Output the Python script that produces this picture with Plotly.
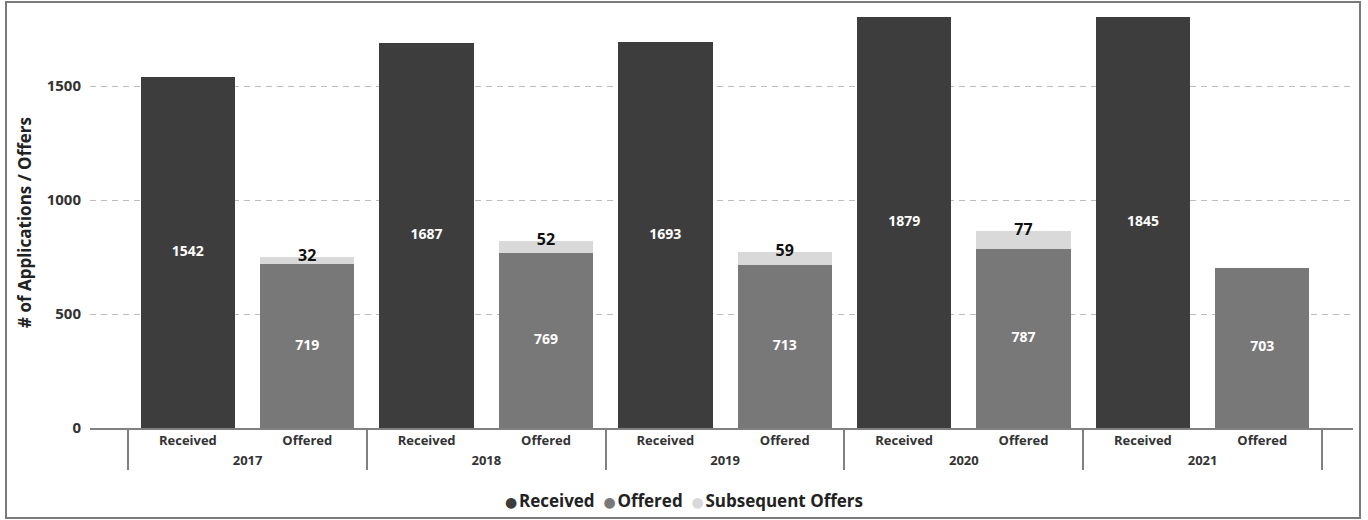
import plotly.graph_objects as go

years = ["2017", "2018", "2019", "2020", "2021"]
received = [1542, 1687, 1693, 1879, 1845]
offered = [719, 769, 713, 787, 703]
subsequent = [32, 52, 59, 77, None]
y_ticks = [0, 500, 1000, 1500]
series_names = ["Received", "Offered", "Subsequent Offers"]

C_REC = "#3d3d3d"
C_OFF = "#787878"
C_SUB = "#d9d9d9"
FONT = "Open Sans"
Y_MAX = 1803

x_rec = [years, ["Received"] * len(years)]
x_off = [years, ["Offered"] * len(years)]

fig = go.Figure()
fig.add_trace(go.Bar(name=series_names[0], x=x_rec, y=received, marker_color=C_REC,
                     marker_line_width=0, hoverinfo="skip"))
fig.add_trace(go.Bar(name=series_names[1], x=x_off, y=offered, marker_color=C_OFF,
                     marker_line_width=0, hoverinfo="skip"))
fig.add_trace(go.Bar(name=series_names[2], x=x_off, y=subsequent, marker_color=C_SUB,
                     marker_line_width=0, hoverinfo="skip"))

lab_font = dict(color="white", size=14, family=FONT, weight="bold")
# Received labels centred in visible part of bar
fig.add_trace(go.Scatter(
    x=x_rec, y=[min(v, Y_MAX) / 2 for v in received], mode="text",
    text=[str(v) for v in received], textposition="middle center",
    textfont=lab_font, hoverinfo="skip"))
fig.add_trace(go.Scatter(
    x=x_off, y=[v / 2 for v in offered], mode="text",
    text=[str(v) for v in offered], textposition="middle center",
    textfont=lab_font, hoverinfo="skip"))

sub_years = [y for y, s in zip(years, subsequent) if s]
sub_y = [o + s for o, s in zip(offered, subsequent) if s]
sub_t = [str(s) for s in subsequent if s]
fig.add_trace(go.Scatter(
    x=[sub_years, ["Offered"] * len(sub_years)], y=sub_y, mode="text", text=sub_t,
    textposition="middle center",
    textfont=dict(color="#111111", size=16, family=FONT, weight="bold"),
    hoverinfo="skip", cliponaxis=False))

colors = [C_REC, C_OFF, C_SUB]
legend_txt = "&nbsp;&nbsp;".join(
    f"<span style='color:{c};font-size:14px;font-family:DejaVu Sans'>●</span>&#8202;{n}"
    for c, n in zip(colors, series_names))

fig.update_layout(
    barmode="stack", bargap=0.21, showlegend=False,
    width=1368, height=520,
    margin=dict(l=90, r=15, t=17, b=92),
    plot_bgcolor="white", paper_bgcolor="white",
    font=dict(family=FONT, color="#333333"),
    annotations=[dict(text=legend_txt, xref="paper", yref="paper",
                      x=(684 - 90) / 1263, y=(428 - 500) / 411, xanchor="center", yanchor="middle",
                      showarrow=False,
                      font=dict(size=17, family=FONT, color="#222222", weight="bold"))],
    shapes=[dict(type="rect", xref="paper", yref="paper",
                 x0=(6 - 90) / 1263, x1=(1360 - 90) / 1263,
                 y0=(428 - 518) / 411, y1=(428 - 2) / 411,
                 line=dict(color="#7a7a7a", width=2), fillcolor="rgba(0,0,0,0)", layer="below")],
)
fig.update_xaxes(
    type="multicategory", range=[-0.82, 9.76],
    showline=True, linecolor="#808080", linewidth=1.5,
    showdividers=True, dividercolor="#808080", dividerwidth=1.5,
    tickfont=dict(size=13, family=FONT, color="#333333", weight="bold"),
    showgrid=False, ticks="")
fig.update_yaxes(
    range=[0, Y_MAX], tickvals=y_ticks, ticktext=[str(v) for v in y_ticks],
    showgrid=True, gridcolor="#bdbdbd", griddash="6px,5px", gridwidth=1.2,
    zeroline=False, showline=False,
    tickfont=dict(size=15, family=FONT, color="#333333", weight="bold"),
    ticklabelstandoff=8,
    title=dict(text="# of Applications / Offers",
               font=dict(size=17, family=FONT, color="#222222", weight="bold"), standoff=10))

fig.write_html("out.html", config={"displayModeBar": False},
               post_script="document.body.style.margin='0';document.body.style.overflow='hidden';")
